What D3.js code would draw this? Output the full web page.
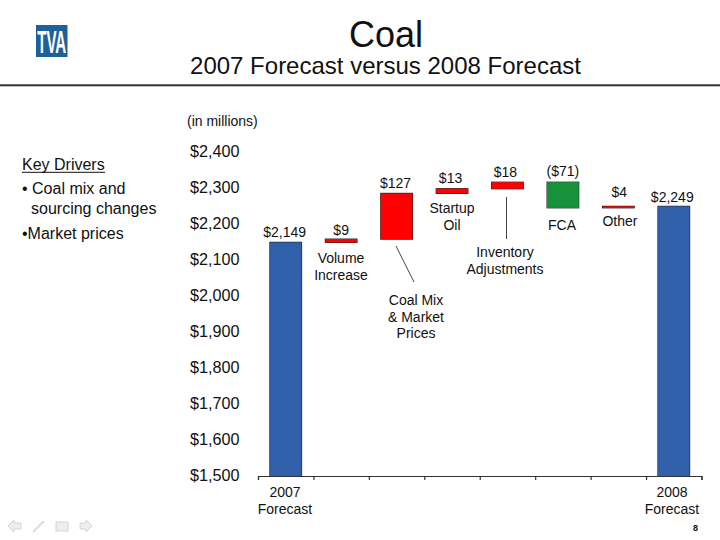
<!DOCTYPE html>
<html>
<head>
<meta charset="utf-8">
<script src="https://cdnjs.cloudflare.com/ajax/libs/d3/7.8.5/d3.min.js"></script>
<style>
  html, body { margin: 0; padding: 0; background: #fff; }
  svg { display: block; }
  text { font-family: "Liberation Sans", Arial, sans-serif; fill: #111; }
</style>
</head>
<body>
<script>
// values, in $ millions
var categories = ["2007 Forecast", "Volume Increase", "Coal Mix", "Startup Oil", "Inventory", "FCA", "Other", "2008 Forecast"];
var barStart = [1500, 2149, 2158, 2285, 2298, 2245, 2245, 1500];
var barEnd = [2149, 2158, 2285, 2298, 2316, 2316, 2249, 2249];
var barLabels = ["$2,149", "$9", "$127", "$13", "$18", "($71)", "$4", "$2,249"];
var barKinds = ["total", "up", "up", "up", "up", "down", "up", "total"];
var yTicks = [1500, 1600, 1700, 1800, 1900, 2000, 2100, 2200, 2300, 2400];
var drivers = ["Coal mix and", "sourcing changes"];

var colors = {total: "#3060aa", up: "#ff0000", down: "#18923a"};

var svg = d3.select("body").append("svg").attr("width", 720).attr("height", 540);

var x = d3.scaleBand().domain(categories).range([258, 701.5]).paddingInner(0.43).paddingOuter(0.215);
var y = d3.scaleLinear().domain([1500, 2400]).range([476, 152]);

// header
svg.append("text").attr("x", 386).attr("y", 46.5).attr("text-anchor", "middle")
    .style("font-size", "36px").text("Coal");
svg.append("text").attr("x", 385.5).attr("y", 74).attr("text-anchor", "middle")
    .style("font-size", "24px").text("2007 Forecast versus 2008 Forecast");
svg.append("rect").attr("x", 0).attr("y", 84.3).attr("width", 720).attr("height", 2).attr("fill", "#333");

// logo
svg.append("rect").attr("x", 36).attr("y", 25).attr("width", 31.5).attr("height", 32).attr("fill", "#1f6098");
svg.append("text").attr("x", 51.7).attr("y", 53).attr("text-anchor", "middle")
    .attr("textLength", 29).attr("lengthAdjust", "spacingAndGlyphs")
    .style("font-size", "32px").style("font-weight", "bold").style("fill", "#fff").text("TVA");

// left notes
svg.append("text").attr("x", 187).attr("y", 126).style("font-size", "14px").text("(in millions)");
svg.append("text").attr("x", 22).attr("y", 170).style("font-size", "16px").text("Key Drivers");
svg.append("line").attr("x1", 22).attr("x2", 105).attr("y1", 172.3).attr("y2", 172.3).attr("stroke", "#111");
svg.append("text").attr("x", 22).attr("y", 194).style("font-size", "16px").text("\u2022 " + drivers[0]);
svg.append("text").attr("x", 31).attr("y", 214).style("font-size", "16px").text(drivers[1]);
svg.append("text").attr("x", 22).attr("y", 239).style("font-size", "16px").text("\u2022Market prices");

// y axis labels only
var yAxis = d3.axisLeft(y).tickValues(yTicks).tickSize(0).tickPadding(0)
    .tickFormat(function (d) { return "$" + d3.format(",")(d); });
var yg = svg.append("g").attr("transform", "translate(239.5,-0.8)").call(yAxis);
yg.select(".domain").remove();
yg.selectAll("text").style("font-size", "16.2px").style("font-family", null).attr("fill", null);

// bars, fill painted over the outline so the thin ones stay red
svg.selectAll(".bar").data(categories).enter().append("rect")
    .attr("class", "bar")
    .attr("x", function (d) { return x(d); })
    .attr("y", function (d, i) { return y(Math.max(barStart[i], barEnd[i])); })
    .attr("width", x.bandwidth())
    .attr("height", function (d, i) { return Math.abs(y(barStart[i]) - y(barEnd[i])); })
    .attr("fill", function (d, i) { return colors[barKinds[i]]; })
    .attr("stroke", "#222")
    .attr("stroke-width", 1.2)
    .style("paint-order", "stroke");

// x axis with ticks on the category edges
var edges = d3.scaleLinear().domain([0, categories.length]).range([258, 701.5]);
var xAxis = d3.axisBottom(edges).tickValues(d3.range(categories.length + 1)).tickSize(4).tickSizeOuter(4).tickFormat("");
var xg = svg.append("g").attr("transform", "translate(0,476)").call(xAxis);
xg.selectAll("path, line").attr("stroke", "#333").attr("stroke-width", 1.2);

// value labels
var labelLift = [5, 4, 5, 6, 5, 6, 9, 4];
var labelShift = [-1, 0, -1, -1.5, -2, 0, 1, -1.5];
svg.selectAll(".val").data(barLabels).enter().append("text")
    .attr("class", "val")
    .attr("x", function (d, i) { return x(categories[i]) + x.bandwidth() / 2 + labelShift[i]; })
    .attr("y", function (d, i) { return y(Math.max(barStart[i], barEnd[i])) - labelLift[i]; })
    .attr("text-anchor", "middle")
    .style("font-size", "14px")
    .text(function (d) { return d; });

// category and callout text
function block(cx, top, lines) {
    lines.forEach(function (s, i) {
        svg.append("text").attr("x", cx).attr("y", top + i * 16.5).attr("text-anchor", "middle")
            .style("font-size", "14px").text(s);
    });
}
block(285, 497, ["2007", "Forecast"]);
block(672, 497, ["2008", "Forecast"]);
block(341, 263, ["Volume", "Increase"]);
block(416, 305, ["Coal Mix", "& Market", "Prices"]);
block(452, 213, ["Startup", "Oil"]);
block(505, 257, ["Inventory", "Adjustments"]);
block(562, 230, ["FCA"]);
block(620, 226, ["Other"]);

// leader lines
svg.append("line").attr("x1", 396).attr("y1", 246).attr("x2", 414).attr("y2", 282).attr("stroke", "#444");
svg.append("line").attr("x1", 506.5).attr("y1", 197).attr("x2", 506.5).attr("y2", 239).attr("stroke", "#444");

// slide nav buttons
var nav = svg.append("g").attr("fill", "#eeeeee").attr("stroke", "#d4d4d4");
nav.append("path").attr("d", "M8 526 L14 520 L14 523 L21 523 L21 529 L14 529 L14 532 Z");
nav.append("path").attr("d", "M33 531 L43 521 L44 522 L34 532 Z");
nav.append("rect").attr("x", 56).attr("y", 522).attr("width", 12).attr("height", 9);
nav.append("path").attr("d", "M92 526 L86 520 L86 523 L80 523 L80 529 L86 529 L86 532 Z");

svg.append("text").attr("x", 693).attr("y", 531).style("font-size", "9px").style("font-weight", "bold").text("8");
</script>
</body>
</html>
